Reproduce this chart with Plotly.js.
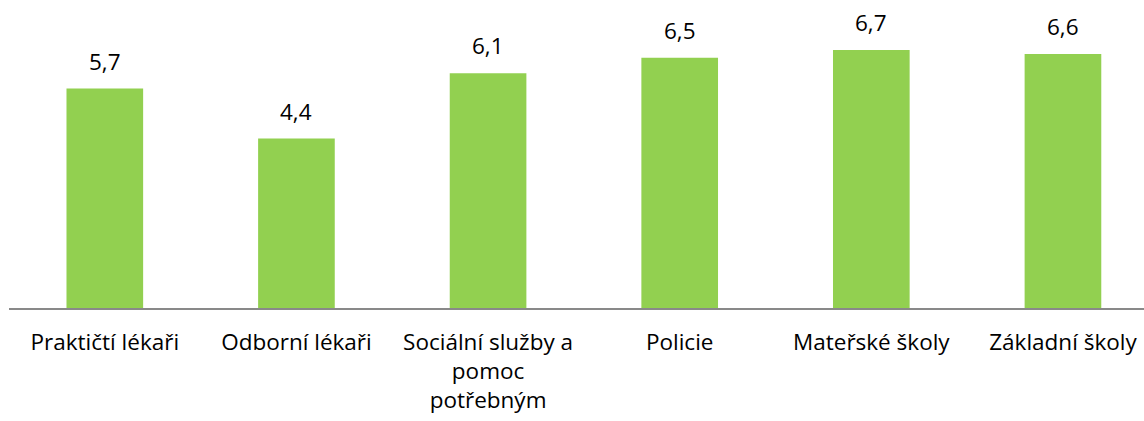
<!DOCTYPE html>
<html>
<head>
<meta charset="utf-8">
<script src="https://cdn.plot.ly/plotly-3.0.1.min.js"></script>
<style>html,body{margin:0;padding:0;background:#fff;}#chart{width:1144px;height:421px;}</style>
</head>
<body>
<div id="chart"></div>
<script>
const categories = ["Praktičtí lékaři", "Odborní lékaři", "Sociální služby a pomoc potřebným", "Policie", "Mateřské školy", "Základní školy"];
const tickLabels = ["Praktičtí lékaři", "Odborní lékaři", "Sociální služby a<br>pomoc<br>potřebným", "Policie", "Mateřské školy", "Základní školy"];
const values = [5.7, 4.4, 6.1, 6.5, 6.7, 6.6];

const FONT = "Open Sans, Noto Sans, sans-serif";

const trace = {
  type: "bar",
  x: categories,
  y: values,
  width: 0.4,
  marker: {color: "#92D050"},
  hoverinfo: "none"
};

const annotations = categories.map((c, i) => ({
  x: c,
  y: values[i],
  xref: "x",
  yref: "y",
  text: values[i].toFixed(1).replace(".", ","),
  showarrow: false,
  yanchor: "bottom",
  yshift: 10,
  font: {family: FONT, size: 22.5, color: "#000"}
}));

const layout = {
  width: 1144,
  height: 421,
  margin: {l: 9, r: 0, t: 0, b: 113},
  paper_bgcolor: "#fff",
  plot_bgcolor: "#fff",
  showlegend: false,
  xaxis: {
    type: "category",
    range: [-0.5, 5.423],
    tickvals: categories,
    ticktext: tickLabels,
    showline: true,
    linecolor: "#898989",
    linewidth: 1.5,
    showgrid: false,
    zeroline: false,
    ticks: "",
    ticklabelstandoff: 13,
    tickfont: {family: FONT, size: 22.5, color: "#000"}
  },
  yaxis: {
    range: [0, 8],
    visible: false,
    showgrid: false,
    zeroline: false
  },
  annotations: annotations
};

Plotly.newPlot("chart", [trace], layout, {displayModeBar: false, staticPlot: true});
</script>
</body>
</html>
